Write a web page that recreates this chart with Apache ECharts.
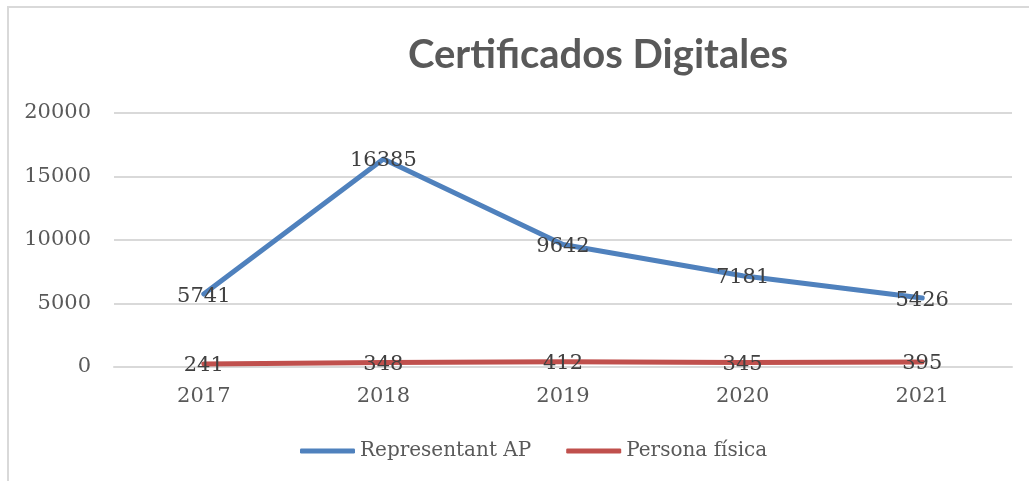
<!DOCTYPE html>
<html>
<head>
<meta charset="utf-8">
<style>
  html, body { margin: 0; padding: 0; background: #fff; }
  #chart { width: 1029px; height: 481px; }
</style>
<script src="https://cdn.jsdelivr.net/npm/echarts@6/dist/echarts.min.js"></script>
</head>
<body>
<div id="chart"></div>
<script>
  const years = ['2017', '2018', '2019', '2020', '2021'];
  const representantAP = [5741, 16385, 9642, 7181, 5426];
  const personaFisica = [241, 348, 412, 345, 395];
  const yTicks = [0, 5000, 10000, 15000, 20000];

  const SERIF = '"DejaVu Serif", "Liberation Serif", serif';
  const BLUE = '#4f81bd';
  const RED = '#c0504d';

  const labelStyle = {
    show: true,
    position: 'inside',
    offset: [0, 2],
    color: '#404040',
    fontFamily: SERIF,
    fontSize: 21,
  };

  const chart = echarts.init(document.getElementById('chart'), null, { renderer: 'canvas' });
  chart.setOption({
    animation: false,
    backgroundColor: '#fff',
    title: {
      text: 'Certificados Digitales',
      left: 593,
      top: 30,
      textAlign: 'center',
      textStyle: { color: '#595959', fontFamily: 'Lato, "Open Sans", sans-serif', fontWeight: 'bold', fontSize: 40 },
    },
    graphic: [{
      type: 'rect',
      shape: { x: 8, y: 7, width: 1040, height: 500 },
      style: { fill: 'none', stroke: '#d9d9d9', lineWidth: 2 },
      silent: true,
    }],
    grid: { left: 114, right: 17, top: 113, bottom: 114 },
    legend: {
      bottom: 15,
      left: 295,
      icon: 'roundRect',
      itemWidth: 55,
      itemHeight: 5,
      itemGap: 35,
      textStyle: { color: '#595959', fontFamily: SERIF, fontSize: 20 },
      data: ['Representant AP', 'Persona física'],
    },
    xAxis: {
      type: 'category',
      data: years,
      boundaryGap: true,
      axisLine: { show: true, lineStyle: { color: '#d9d9d9', width: 2 } },
      axisTick: { show: false },
      axisLabel: { color: '#595959', fontFamily: SERIF, fontSize: 21, margin: 19 },
    },
    yAxis: {
      type: 'value',
      min: yTicks[0],
      max: yTicks[yTicks.length - 1],
      interval: yTicks[1] - yTicks[0],
      axisLine: { show: false },
      axisTick: { show: false },
      axisLabel: { color: '#595959', fontFamily: SERIF, fontSize: 21, margin: 23, formatter: (v) => String(v) },
      splitLine: { lineStyle: { color: '#d9d9d9', width: 2 } },
    },
    series: [
      {
        name: 'Representant AP',
        type: 'line',
        data: representantAP,
        symbol: 'circle',
        symbolSize: 1,
        lineStyle: { color: BLUE, width: 5, cap: 'round', join: 'round' },
        itemStyle: { color: BLUE },
        label: labelStyle,
      },
      {
        name: 'Persona física',
        type: 'line',
        data: personaFisica,
        symbol: 'circle',
        symbolSize: 1,
        lineStyle: { color: RED, width: 5, cap: 'round', join: 'round' },
        itemStyle: { color: RED },
        label: labelStyle,
      },
    ],
  });
</script>
</body>
</html>
